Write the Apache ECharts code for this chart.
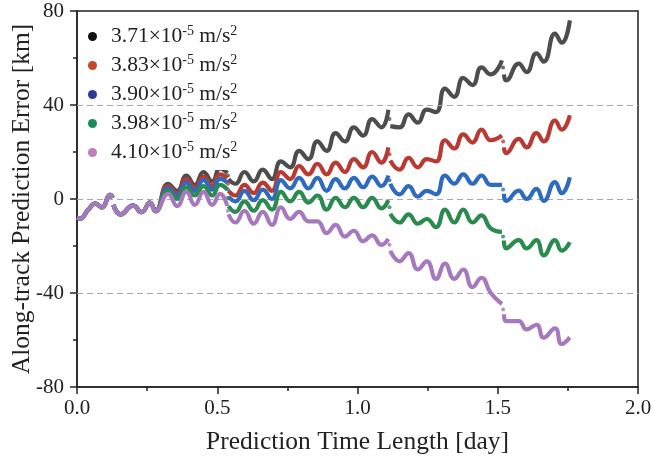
<!DOCTYPE html>
<html><head><meta charset="utf-8">
<script src="https://cdn.jsdelivr.net/npm/echarts@6/dist/echarts.min.js"></script>
<style>html,body{margin:0;padding:0;background:#fff}#c{width:653px;height:465px}</style>
</head><body><div id="c"></div>
<script>
// Accelerations (legend) x10^-5 m/s^2
const accels = ['3.71', '3.83', '3.90', '3.98', '4.10'];
const lineColors = ['#4d4d4d', '#b93a32', '#2f6bbd', '#2b8a4f', '#a679bf'];
const legendColors = ['#111111', '#c8462c', '#2b3a94', '#1b8a5a', '#c07ec0'];

// Prediction time (day) samples for each arc
const t1 = [0, 0.012, 0.04, 0.066, 0.089, 0.118, 0.128];
const t2 = [0.13, 0.155, 0.2, 0.23, 0.26, 0.28, 0.325, 0.357, 0.39, 0.42, 0.451, 0.482, 0.51, 0.536];
const t3 = [0.54, 0.565, 0.597, 0.63, 0.662, 0.695, 0.727, 0.76, 0.792, 0.825, 0.857, 0.89, 0.922, 0.955, 0.987, 1.02, 1.052, 1.085, 1.11];
const t4 = [1.117, 1.15, 1.182, 1.215, 1.247, 1.28, 1.312, 1.345, 1.377, 1.41, 1.442, 1.475, 1.515];
const t5 = [1.522, 1.53, 1.575, 1.603, 1.638, 1.664, 1.704, 1.728, 1.757];
const times = [t1, t2, t3, t4, t5];
// times of the isolated points inside each jump
const tBreak = [0.538, 1.114, 1.519];

// shared early part (km)
const common1 = [-8, -8.3, -4.5, -2, -3.6, 1.8, 0.5];
const common2 = [-2.5, -6.5, -2.8, -5.6, -1.5, -5.2];

// along-track error (km), per arc
const err371 = [common1, common2.concat([6.5, 3.5, 10, 6, 11.5, 7.5, 13, 11]),
  [8.5, 6.5, 11.5, 7.5, 12.5, 8.5, 16, 13.5, 20.5, 17, 24.5, 20.5, 28, 24.5, 30.5, 27, 34, 30.5, 38],
  [31, 30.5, 36, 32.5, 38, 37, 47, 43.5, 51.5, 48.5, 56, 53, 59],
  [53, 50.5, 57.6, 54, 62, 58.5, 70.4, 66.5, 76]];
const err383 = [common1, common2.concat([5.5, 2.5, 8.5, 5, 9.5, 5.5, 10.5, 9]),
  [3.5, 1.5, 6, 2.5, 7, 3.5, 11.5, 8.5, 14, 10.5, 15, 10.5, 15.5, 11.5, 17, 13.5, 20, 15.5, 22],
  [16.4, 12.5, 17.5, 13.5, 17, 16, 25, 21.5, 27.5, 24, 29.5, 25, 27],
  [22, 19.5, 25.6, 22, 28, 24.5, 33.4, 29.5, 35.6]];
const err390 = [common1, common2.concat([4.5, 1.5, 7, 3.5, 8, 4, 8.6, 7]),
  [1, -1, 3.5, -0.5, 4, 0, 8, 4.5, 9, 4.5, 9, 3.5, 8.5, 4.5, 9, 5, 9.5, 5.5, 10],
  [6.5, 2, 5.5, 1, 3.5, 2, 10, 6.5, 10.5, 6.5, 10, 6, 6],
  [2.2, -0.8, 3.6, 0, 4.3, -0.8, 7.2, 2.5, 9.3]];
const err398 = [common1, common2.concat([3.5, 0, 5, 1.5, 5.5, 1.5, 6, 4]),
  [-3, -5.5, -1, -5, -0.5, -4.5, 3, -1, 3, -1.5, 1.5, -4.5, 0.5, -3.5, 0.5, -3.5, 0.5, -4, -0.5],
  [-6.3, -10, -6.5, -10.5, -8.5, -12, -4.5, -10, -4.5, -10, -7, -12.5, -14],
  [-17.7, -21, -17.5, -21, -17.5, -24, -17.5, -22, -18.4]];
const err410 = [common1, common2.concat([2.2, -3, 3, -2.5, 3, -2.5, 2.2, -3]),
  [-6.5, -10, -5, -10.5, -5.5, -11, -3.5, -8.5, -5.5, -9.5, -9.5, -14.5, -11, -16, -13.5, -18, -15.5, -19.5, -17],
  [-22, -26.5, -23, -30, -26.5, -34, -27.5, -34, -30, -37.5, -33.5, -40, -44.7],
  [-49, -52, -52, -55.5, -53.5, -59, -55, -61.7, -58.9]];
const errs = [err371, err383, err390, err398, err410];
// isolated points inside the jumps (km)
const breaks = [[10, 34, 56], [6.5, 19, 24.5], [4, 8, 4], [0.5, -3.5, -16], [-5, -19.5, -47]];

const xTicks = [0, 0.5, 1.0, 1.5, 2.0];
const yTicks = [-80, -40, 0, 40, 80];
const gridLines = [40, 0, -40];

function build(arcs) {
  const out = [];
  arcs.forEach((vals, i) => {
    if (i > 0) out.push([(times[i - 1][times[i - 1].length - 1] + times[i][0]) / 2, null]);
    vals.forEach((v, j) => out.push([times[i][j], v]));
  });
  return out;
}
const FONT = 'Liberation Serif';
const names = accels.map(a => a + '×10-5 m/s2');

const series = [];
errs.forEach((arcs, k) => {
  series.push({
    name: names[k], type: 'line', data: build(arcs), smooth: 0.5, showSymbol: false,
    connectNulls: false, lineStyle: { width: 4.2, color: lineColors[k] }, itemStyle: { color: lineColors[k] },
    z: 3 + k,
    markLine: k === 0 ? {
      silent: true, symbol: 'none', label: { show: false },
      lineStyle: { type: [6, 4], color: '#a8a8a8', width: 1.2 },
      data: gridLines.map(v => ({ yAxis: v }))
    } : undefined
  });
  series.push({
    name: names[k], type: 'scatter', symbolSize: 4, z: 3 + k,
    data: breaks[k].map((v, j) => [tBreak[j], v]), itemStyle: { color: lineColors[k] }
  });
});

const chart = echarts.init(document.getElementById('c'));
chart.setOption({
  animation: false,
  backgroundColor: '#fff',
  grid: { left: 77, right: 15, top: 11, bottom: 78, containLabel: false, outerBoundsMode: 'none',
    show: true, borderColor: '#222', borderWidth: 1.5, backgroundColor: 'transparent' },
  legend: {
    orient: 'vertical', left: 83, top: 19, padding: [5, 9, 5, 5], backgroundColor: '#fff',
    itemWidth: 9, itemHeight: 9, itemGap: 4, icon: 'circle',
    data: names.map((n, k) => ({ name: n, itemStyle: { color: legendColors[k] } })),
    formatter: n => { const k = names.indexOf(n); return accels[k] + '×10{sup|-5} m/s{sup|2}'; },
    textStyle: { fontFamily: FONT, fontSize: 21.5, color: '#222', lineHeight: 25, padding: [0, 0, 0, 9],
      rich: { sup: { fontFamily: FONT, fontSize: 14, lineHeight: 14, verticalAlign: 'top', color: '#222' } } }
  },
  xAxis: {
    type: 'value', min: 0, max: 2, interval: 0.5,
    name: 'Prediction Time Length [day]', nameLocation: 'middle', nameGap: 42, nameMoveOverlap: false,
    nameTextStyle: { fontFamily: FONT, fontSize: 25.5, color: '#222' },
    axisLine: { onZero: false, lineStyle: { color: '#222', width: 1.5 } },
    axisTick: { show: true, inside: false, length: 7, lineStyle: { color: '#222', width: 1.5 } },
    minorTick: { show: true, splitNumber: 2, length: 4, lineStyle: { color: '#222', width: 1.5 } },
    axisLabel: { fontFamily: FONT, fontSize: 21, color: '#222', margin: 11, formatter: v => v.toFixed(1) },
    splitLine: { show: false }
  },
  yAxis: {
    type: 'value', min: -80, max: 80, interval: 40,
    name: 'Along-track Prediction Error [km]', nameLocation: 'middle', nameGap: 42, nameMoveOverlap: false,
    nameTextStyle: { fontFamily: FONT, fontSize: 25.5, color: '#222' },
    axisLine: { lineStyle: { color: '#222', width: 1.5 } },
    axisTick: { show: true, inside: false, length: 7, lineStyle: { color: '#222', width: 1.5 } },
    minorTick: { show: true, splitNumber: 2, length: 4, lineStyle: { color: '#222', width: 1.5 } },
    axisLabel: { fontFamily: FONT, fontSize: 21, color: '#222', margin: 13 },
    splitLine: { show: false }
  },
  series: series
});
</script>
</body></html>
